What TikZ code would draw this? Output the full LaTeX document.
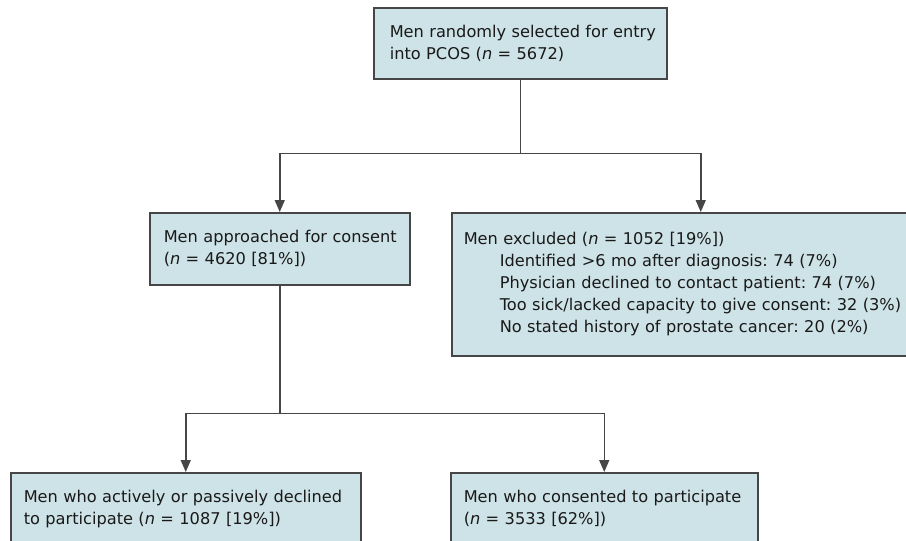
\documentclass[tikz,border=0pt]{standalone}
\usepackage{fontspec}
\setmainfont{DejaVu Sans}
\frenchspacing
\usetikzlibrary{arrows.meta}
\definecolor{boxfill}{RGB}{206,227,231}
\definecolor{linegray}{RGB}{70,70,70}
\newcommand\oneline[1]{\mbox{#1}}
\begin{document}
\begin{tikzpicture}[x=1pt,y=-1pt,
  box/.style={draw=linegray, line width=1.5pt, fill=boxfill, anchor=north west,
    inner ysep=0pt, align=left, text=black!90, font=\fontsize{16.2}{22}\selectfont},
  conn/.style={draw=linegray, line width=1.5pt},
  arr/.style={conn, -{Triangle[width=10pt,length=12pt]}}]
\useasboundingbox (0,0) rectangle (906,541);
\clip (0,0) rectangle (906,541);

\node[box, inner xsep=16pt, text width=261pt, minimum height=71pt] (top) at (373,7)
  {\oneline{Men randomly selected for entry}\\\oneline{into PCOS (\textit{n} = 5672)}};
\node[box, inner xsep=14pt, text width=232pt, minimum height=72pt] (midL) at (149,212)
  {\oneline{Men approached for consent}\\\oneline{(\textit{n} = 4620 [81\%])}};
\node[box, inner xsep=12pt, text width=474pt, minimum height=143pt] (midR) at (451,212)
  {\oneline{Men excluded (\textit{n} = 1052 [19\%])}\\
   \oneline{\hspace*{36pt}Identified >6 mo after diagnosis: 74 (7\%)}\\
   \oneline{\hspace*{36pt}Physician declined to contact patient: 74 (7\%)}\\
   \oneline{\hspace*{36pt}Too sick/lacked capacity to give consent: 32 (3\%)}\\
   \oneline{\hspace*{36pt}No stated history of prostate cancer: 20 (2\%)}};
\node[box, inner xsep=13pt, text width=324pt, minimum height=72pt] (botL) at (10,472)
  {\oneline{Men who actively or passively declined}\\\oneline{to participate (\textit{n} = 1087 [19\%])}};
\node[box, inner xsep=13pt, text width=281pt, minimum height=72pt] (botR) at (450,472)
  {\oneline{Men who consented to participate}\\\oneline{(\textit{n} = 3533 [62\%])}};

\path (top.south) ++(0,74) coordinate (j1);
\path (midL.south) ++(0,128) coordinate (j2);
\draw[conn] (top.south) -- (j1);
\draw[arr] (j1) -| (midL.north);
\draw[arr] (j1) -| (midR.north);
\draw[conn] (midL.south) -- (j2);
\draw[arr] (j2) -| (botL.north);
\draw[arr] (j2) -| (botR.north);
\end{tikzpicture}
\end{document}
